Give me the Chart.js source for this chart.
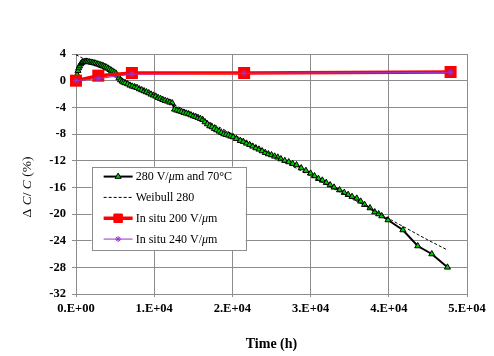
<!DOCTYPE html>
<html>
<head>
<meta charset="utf-8">
<script src="https://cdn.jsdelivr.net/npm/chart.js@4.4.1/dist/chart.umd.min.js"></script>
<style>
html,body{margin:0;padding:0;background:#fff;}
#wrap{width:494px;height:356px;position:relative;}
</style>
</head>
<body>
<div id="wrap"><canvas id="c" width="494" height="356"></canvas></div>
<script>
// ---- Data ----
const agedTime = [150,250,350,450,600,750,900,1100,1300,1500,1700,1900,2100,2300,2500,2700,2900,3100,3300,3500,3700,3900,4100,4300,4500,4700,4900,5100,5300,5500,5700,5900,6100,6300,6600,6900,7200,7500,7800,8100,8400,8700,9000,9300,9600,9900,10200,10500,10800,11100,11400,11700,12000,12300,12600,12900,13200,13500,13800,14100,14400,14700,15000,15300,15600,15900,16200,16500,16800,17100,17400,17700,18000,18300,18600,18900,19200,19500,19800,20100,20500,21000,21400,21800,22200,22600,23000,23400,23800,24200,24600,25000,25400,25800,26200,26700,27200,27700,28200,28800,29400,30000,30500,31000,31500,32000,32500,33000,33700,34300,34800,35300,35900,36400,36900,37600,38200,38700,39100,39900,41800,43700,45500,47500];
const agedDelta = [0.9,1.5,1.9,2.2,2.5,2.7,2.8,2.85,2.9,2.85,2.8,2.75,2.7,2.65,2.6,2.5,2.45,2.35,2.3,2.2,2.1,2.0,1.85,1.7,1.55,1.4,1.25,1.1,0.8,0.4,0.1,-0.1,-0.25,-0.35,-0.5,-0.7,-0.85,-0.95,-1.05,-1.25,-1.4,-1.55,-1.7,-1.85,-2.05,-2.2,-2.35,-2.55,-2.7,-2.85,-3.0,-3.1,-3.25,-3.35,-4.3,-4.45,-4.55,-4.65,-4.8,-4.9,-5.0,-5.15,-5.3,-5.4,-5.55,-5.7,-5.85,-6.2,-6.5,-6.8,-6.95,-7.2,-7.4,-7.6,-7.8,-8.0,-8.1,-8.2,-8.35,-8.45,-8.7,-9.0,-9.15,-9.4,-9.6,-9.85,-10.1,-10.3,-10.55,-10.8,-11.0,-11.15,-11.35,-11.5,-11.75,-12.0,-12.2,-12.45,-12.65,-13.1,-13.5,-13.9,-14.3,-14.7,-14.95,-15.3,-15.65,-16.0,-16.4,-16.8,-17.1,-17.4,-17.65,-18.1,-18.6,-19.1,-19.7,-20.0,-20.3,-20.9,-22.4,-24.8,-26.0,-28.0];

const weibullTime = [0,2500,5000,10000,15000,20000,25000,30000,35000,40000,45000,47500];
const weibullDelta = [3.9,2.3,0.8,-2.2,-5.0,-8.0,-11.1,-14.3,-17.5,-20.7,-23.9,-25.4];

const insituTime = [0,2850,7150,21500,47900];
const insitu200 = [0,0.75,1.15,1.15,1.3];
const insitu240 = [0,0.3,1.0,1.1,1.25];

const xTickLabels = ['0.E+00','1.E+04','2.E+04','3.E+04','4.E+04','5.E+04'];
const yTicks = [-32,-28,-24,-20,-16,-12,-8,-4,0,4];

const seriesNames = ['280 V/\u03BCm and 70\u00B0C','Weibull 280','In situ 200 V/\u03BCm','In situ 240 V/\u03BCm'];

const pts = (xs, ys) => xs.map((x,i)=>({x:x,y:ys[i]}));

const GRID = '#8c8c8c';
const SERIF = '"Liberation Serif","Times New Roman",serif';

// ---- Legend plugin (drawn inside plot area) ----
function drawRich(ctx, segs, x, y){
  let cx = x;
  segs.forEach(s=>{
    ctx.font = s.f;
    ctx.fillText(s.t, cx, y);
    cx += ctx.measureText(s.t).width;
  });
  return cx;
}
function nameSegs(name){
  const parts = name.split('\u03BC');
  const segs = [];
  parts.forEach((p,i)=>{
    if(i>0) segs.push({t:'\u03BC', f:'italic 12px '+SERIF});
    if(p) segs.push({t:p, f:'12px '+SERIF});
  });
  return segs;
}

const legendPlugin = {
  id:'boxLegend',
  afterDraw(chart){
    const ctx = chart.ctx;
    const xs = chart.scales.x, ys = chart.scales.y;
    const left = xs.getPixelForValue(2000), right = xs.getPixelForValue(21700);
    const top = ys.getPixelForValue(-12.9), bottom = ys.getPixelForValue(-25.4);
    ctx.save();
    ctx.fillStyle='#fff';
    ctx.fillRect(left, top, right-left, bottom-top);
    ctx.strokeStyle='#8c8c8c'; ctx.lineWidth=1;
    ctx.strokeRect(Math.round(left)+0.5, Math.round(top)+0.5, Math.round(right-left), Math.round(bottom-top));
    const rowH = (bottom-top)/4;
    const x0 = left+12, x1 = left+41, xt = left+44;
    chart.data.datasets.forEach((ds,i)=>{
      const y = top + rowH*(i+0.5) - 0.5;
      ctx.save();
      ctx.strokeStyle = ds.borderColor;
      ctx.lineWidth = ds.borderWidth;
      ctx.setLineDash(ds.borderDash || []);
      ctx.beginPath(); ctx.moveTo(x0,y); ctx.lineTo(x1,y); ctx.stroke();
      ctx.setLineDash([]);
      if(ds.pointRadius>0){
        const r = i===2 ? 6 : (i===0 ? 3.5 : 3);
        ctx.fillStyle = ds.pointBackgroundColor;
        ctx.strokeStyle = ds.pointBorderColor;
        ctx.lineWidth = ds.pointBorderWidth||1;
        Chart.helpers.drawPoint(ctx, {pointStyle: ds.pointStyle, rotation:0, radius:r, borderWidth: ds.pointBorderWidth||1}, (x0+x1)/2, y);
      }
      ctx.restore();
      ctx.fillStyle='#000';
      ctx.textBaseline='middle';
      drawRich(ctx, nameSegs(seriesNames[i]), xt, y+0.5);
    });
    ctx.restore();
  }
};

// ---- Y title plugin (mixed italic) ----
const yTitlePlugin = {
  id:'yTitle',
  afterDraw(chart){
    const ctx = chart.ctx;
    const segs = [
      {t:'\u0394 ', f:'13.5px '+SERIF},
      {t:'C', f:'italic 13.5px '+SERIF},
      {t:'/ ', f:'13.5px '+SERIF},
      {t:'C', f:'italic 13.5px '+SERIF},
      {t:' (%)', f:'13.5px '+SERIF}
    ];
    let w = 0;
    segs.forEach(s=>{ctx.font=s.f; w+=ctx.measureText(s.t).width;});
    ctx.save();
    ctx.translate(27, 187);
    ctx.rotate(-Math.PI/2);
    ctx.fillStyle='#000';
    ctx.textBaseline='middle';
    drawRich(ctx, segs, -w/2, 0);
    ctx.restore();
  }
};

const chart = new Chart(document.getElementById('c'), {
  type:'scatter',
  data:{
    datasets:[
      {
        label:seriesNames[0], data:pts(agedTime, agedDelta), showLine:true,
        borderColor:'#000000', borderWidth:2, clip:false,
        pointStyle:'triangle', pointRadius:3.5, pointBackgroundColor:'#00cc00',
        pointBorderColor:'#000000', pointBorderWidth:1, order:4
      },
      {
        label:seriesNames[1], data:pts(weibullTime, weibullDelta), showLine:true,
        borderColor:'#000000', borderWidth:1, borderDash:[3,2], clip:false,
        pointRadius:0, order:3
      },
      {
        label:seriesNames[2], data:pts(insituTime, insitu200), showLine:true,
        borderColor:'#ff0000', borderWidth:3.5, clip:false,
        pointStyle:'rect', pointRadius:8.5, pointBackgroundColor:'#ff0000',
        pointBorderColor:'#ff0000', pointBorderWidth:0, order:2
      },
      {
        label:seriesNames[3], data:pts(insituTime, insitu240), showLine:true,
        borderColor:'#9933cc', borderWidth:1, clip:false,
        pointStyle:'star', pointRadius:3, pointBackgroundColor:'#9933cc',
        pointBorderColor:'#9933cc', pointBorderWidth:1, order:1
      }
    ]
  },
  options:{
    responsive:false, animation:false,
    layout:{padding:{left:0, top:54, right:27, bottom:0}},
    plugins:{legend:{display:false}, tooltip:{enabled:false}},
    elements:{line:{tension:0}},
    scales:{
      x:{
        type:'linear', min:0, max:50000,
        afterFit(s){ s.height = 62; },
        afterBuildTicks(s){ s.ticks = []; for(let v=0; v<=50000; v+=5000) s.ticks.push({value:v}); },
        ticks:{
          autoSkip:false, maxRotation:0, padding:4, color:'#000',
          font:{family:SERIF, size:12.5, weight:'bold'},
          callback:(v)=> (v % 10000 === 0 ? xTickLabels[v/10000] : '')
        },
        grid:{
          color:(c)=> (c.tick && c.tick.value % 10000 === 0 ? GRID : 'rgba(0,0,0,0)'),
          tickColor:(c)=> (c.tick && c.tick.value % 10000 === 0 ? GRID : 'rgba(0,0,0,0)'),
          tickLength:3, lineWidth:1
        },
        border:{color:GRID, width:1},
        title:{display:true, text:'Time (h)', color:'#000',
          font:{family:SERIF, size:14, weight:'bold'}, padding:{top:0, bottom:3}}
      },
      y:{
        min:-32, max:4,
        afterFit(s){ s.width = 76; },
        afterBuildTicks(s){ s.ticks = yTicks.map(v=>({value:v})); },
        ticks:{
          padding:6, color:'#000',
          font:{family:SERIF, size:12.5, weight:'bold'}
        },
        grid:{color:GRID, tickColor:GRID, tickLength:4, lineWidth:1},
        border:{color:GRID, width:1}
      }
    }
  },
  plugins:[legendPlugin, yTitlePlugin]
});
</script>
</body>
</html>
